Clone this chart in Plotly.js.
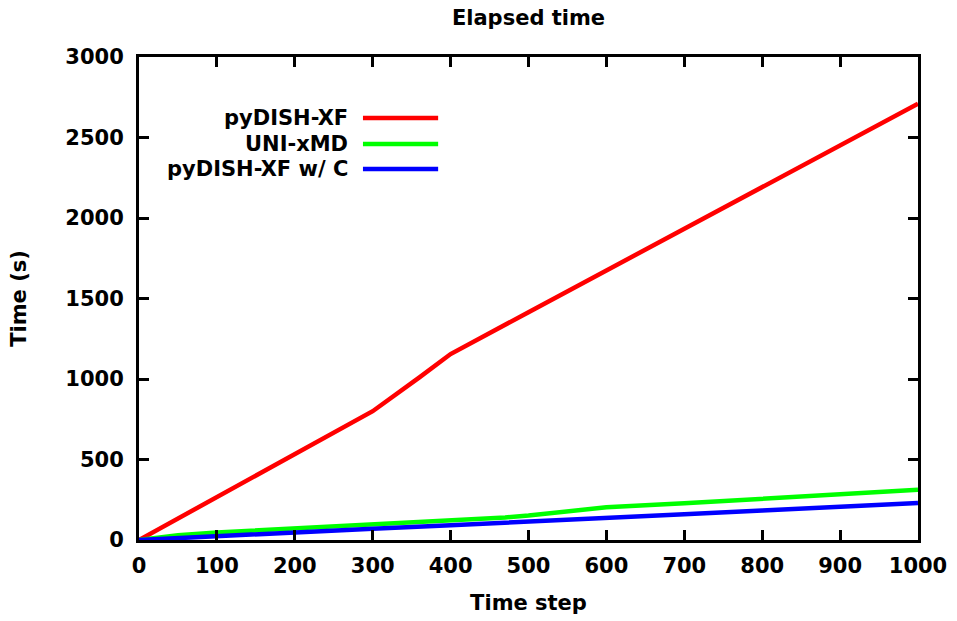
<!DOCTYPE html>
<html>
<head>
<meta charset="utf-8">
<script src="https://cdn.plot.ly/plotly-3.0.1.min.js"></script>
<style>html,body{margin:0;padding:0;background:#fff;}#chart{width:957px;height:621px;}</style>
</head>
<body>
<div id="chart"></div>
<script>
// Data
const seriesNames = ["pyDISH-XF", "UNI-xMD", "pyDISH-XF w/ C"];
const seriesColors = ["#ff0000", "#00ff00", "#0000ff"];

const redSteps = [0, 100, 200, 300, 360, 400, 500, 600, 700, 800, 900, 1000];
const redTime  = [0, 267, 535, 800, 1010, 1155, 1415, 1673, 1932, 2190, 2450, 2710];

const greenSteps = [0, 50, 100, 200, 300, 400, 470, 500, 550, 600, 700, 800, 870, 900, 1000];
const greenTime  = [0, 30, 47, 72, 97, 120, 140, 152, 178, 203, 228, 255, 272, 285, 312];

const blueSteps = [0, 100, 200, 300, 400, 500, 600, 700, 800, 900, 1000];
const blueTime  = [0, 25, 48, 70, 92, 113, 138, 160, 183, 207, 230];

const xTicks = [0, 100, 200, 300, 400, 500, 600, 700, 800, 900, 1000];
const yTicks = [0, 500, 1000, 1500, 2000, 2500, 3000];

const FONT = "DejaVu Sans";
const fontSpec = {family: FONT, size: 21, color: "#000", weight: "bold"};

const traces = [
  {x: redSteps, y: redTime, name: seriesNames[0]},
  {x: greenSteps, y: greenTime, name: seriesNames[1]},
  {x: blueSteps, y: blueTime, name: seriesNames[2]}
].map((t, i) => Object.assign(t, {
  type: "scatter", mode: "lines", showlegend: false,
  line: {color: seriesColors[i], width: 4.5}
}));

// Reverse-drawn legend box (text on left, sample line on right), gnuplot style
const legendRowsY = [0.8737, 0.8199, 0.7681];
const annotations = seriesNames.map((n, i) => ({
  xref: "paper", yref: "paper", x: 0.271, y: legendRowsY[i],
  xanchor: "right", yanchor: "middle", showarrow: false,
  text: "<b>" + n + "</b>", font: fontSpec
}));
const shapes = seriesColors.map((c, i) => ({
  type: "line", xref: "paper", yref: "paper",
  x0: 0.2875, x1: 0.384, y0: legendRowsY[i], y1: legendRowsY[i],
  line: {color: c, width: 4.5}
}));

const axisCommon = {
  showline: true, linecolor: "#000", linewidth: 3, mirror: "allticks",
  ticks: "inside", ticklen: 10, tickwidth: 3, tickcolor: "#000",
  showgrid: false, zeroline: false, tickfont: fontSpec
};

const layout = {
  width: 957, height: 621,
  margin: {l: 139, r: 39, t: 57, b: 81},
  paper_bgcolor: "#fff", plot_bgcolor: "#fff",
  font: fontSpec,
  title: {text: "<b>Elapsed time</b>", font: fontSpec, x: 0.5, xref: "paper", xanchor: "center", y: 0.971, yanchor: "middle", yref: "container"},
  xaxis: Object.assign({}, axisCommon, {
    range: [0, 1000], tickvals: xTicks, ticktext: xTicks.map(String),
    ticklabelstandoff: 5,
    title: {text: "<b>Time step</b>", font: fontSpec, standoff: 19}
  }),
  yaxis: Object.assign({}, axisCommon, {
    range: [0, 3000], tickvals: yTicks, ticktext: yTicks.map(String),
    ticklabelstandoff: 8,
    title: {text: "<b>Time (s)</b>", font: fontSpec, standoff: 33}
  }),
  annotations: annotations,
  shapes: shapes
};

Plotly.newPlot("chart", traces, layout, {staticPlot: true, displayModeBar: false});
</script>
</body>
</html>
